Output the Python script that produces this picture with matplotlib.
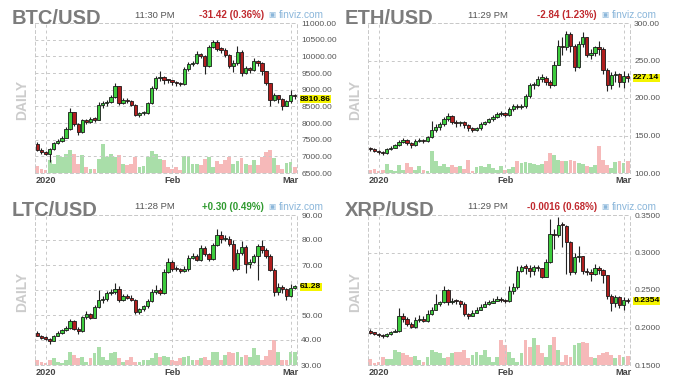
import matplotlib
matplotlib.use("Agg")
import matplotlib.pyplot as plt
import pandas as pd
from matplotlib.transforms import blended_transform_factory

plt.rcParams['font.family'] = ['Liberation Sans', 'DejaVu Sans']

W, H = 676, 385
dates = pd.date_range("2019-12-30", "2020-03-02", freq="D")
month_ticks = pd.to_datetime(["2020-01-01", "2020-02-01", "2020-03-01"])
month_labels = ["2020", "Feb", "Mar"]

# ---- BTC/USD ----
btc_first_open = 7360
btc_close = [7180, 7120, 7080, 7220, 7400, 7460, 7560, 7830, 8330, 7980,
             7730, 8080, 8030, 8120, 8100, 8540, 8590, 8640, 8780, 9110,
             8590, 8700, 8660, 8540, 8250, 8300, 8310, 8590, 9040, 9340,
             9370, 9300, 9280, 9240, 9200, 9170, 9610, 9760, 9800, 10070,
             10010, 9720, 10290, 10420, 10220, 10200, 10050, 9710, 9800, 10140,
             9490, 9640, 9590, 9870, 9800, 9550, 9190, 8690, 8830, 8720,
             8520, 8650, 8842, 8810.86]
btc_high = [7420, 7240, 7160, 7260, 7440, 7520, 7600, 7880, 8450, 8340,
            8010, 8120, 8110, 8190, 8180, 8620, 8650, 8700, 8850, 9200,
            9120, 8760, 8750, 8680, 8560, 8340, 8360, 8620, 9100, 9420,
            9560, 9400, 9330, 9290, 9250, 9230, 9680, 9830, 9860, 10150,
            10100, 10030, 10330, 10500, 10480, 10280, 10240, 10070, 9880, 10300,
            10200, 9700, 9680, 9960, 9900, 9820, 9560, 9200, 8900, 8850,
            8740, 8700, 9000, 8880]
btc_low = [7150, 7080, 7040, 6830, 7180, 7380, 7440, 7540, 7800, 7900,
           7650, 7700, 7970, 7990, 8040, 8080, 8460, 8520, 8600, 8740,
           8540, 8560, 8600, 8500, 8200, 8180, 8240, 8280, 8560, 9000,
           9250, 9160, 9200, 9150, 9120, 9100, 9140, 9560, 9700, 9760,
           9950, 9480, 9680, 10240, 10150, 10100, 9980, 9650, 9520, 9750,
           9400, 9460, 9500, 9560, 9720, 9450, 9150, 8500, 8650, 8600,
           8400, 8500, 8600, 8720]
btc_vol = [20, 13, 8, 38, 28, 53, 48, 56, 70, 56,
           28, 53, 18, 13, 13, 43, 86, 48, 56, 48,
           53, 28, 23, 28, 48, 18, 20, 48, 66, 58,
           43, 38, 18, 13, 18, 8, 50, 48, 28, 28,
           23, 43, 48, 18, 36, 28, 38, 48, 26, 36,
           46, 26, 23, 38, 23, 48, 63, 68, 46, 23,
           13, 30, 33, 18]
btc_ticks = [6500, 7000, 7500, 8000, 8500, 9000, 9500, 10000, 10500, 11000]

# ---- ETH/USD ----
eth_first_open = 134
eth_close = [132, 130, 128, 127, 132, 134, 137, 141, 144, 140,
             137, 143, 144, 143, 148, 158, 162, 165, 172, 176,
             168, 167, 168, 164, 160, 158, 160, 166, 168, 172,
             175, 179, 180.5, 178, 185, 190, 188, 189, 203, 217,
             218, 226, 227, 222, 217, 244, 270, 268, 285, 270,
             242, 272, 282, 258, 260, 268, 265, 237, 217, 231,
             232, 221, 229.98, 227.14]
eth_high = [135, 133, 131, 130, 134, 136, 139, 144, 147, 145,
            141, 145, 147, 146, 150, 170, 166, 168, 175, 180,
            178, 171, 170, 169, 165, 161, 162, 168, 170, 174,
            178, 182, 183, 181, 188, 192, 192, 192, 206, 220,
            222, 230, 232, 229, 224, 250, 278, 282, 290, 288,
            272, 276, 288, 282, 266, 270, 276, 268, 240, 235,
            236, 234, 236, 233]
eth_low = [130, 128, 126, 124, 126, 131, 133, 136, 140, 138,
           134, 136, 141, 140, 142, 147, 155, 158, 163, 170,
           165, 162, 163, 160, 156, 155, 156, 158, 164, 167,
           170, 174, 176, 175, 176, 183, 185, 185, 187, 200,
           212, 216, 221, 218, 214, 216, 244, 258, 264, 262,
           236, 240, 268, 255, 252, 256, 258, 232, 210, 212,
           222, 215, 213, 222]
eth_vol = [8, 12, 5, 10, 28, 8, 5, 25, 10, 30,
           18, 10, 20, 10, 6, 65, 35, 20, 28, 18,
           25, 18, 20, 12, 38, 5, 18, 22, 18, 28,
           15, 8, 22, 10, 12, 18, 35, 30, 32, 30,
           28, 25, 28, 35, 60, 55, 40, 35, 35, 38,
           35, 30, 28, 22, 18, 25, 80, 40, 25, 15,
           32, 35, 30, 35]
eth_ticks = [100, 150, 200, 250, 300]

# ---- LTC/USD ----
ltc_first_open = 43.0
ltc_close = [41.8, 41.0, 40.6, 39.8, 41.7, 42.8, 44.0, 44.8, 47.6, 44.6,
             43.6, 49.2, 50.3, 49.0, 53.3, 56.0, 56.6, 58.7, 59.3, 60.6,
             56.0, 57.7, 57.0, 56.2, 51.3, 52.3, 53.5, 55.7, 59.3, 60.2,
             58.9, 67.4, 71.3, 68.6, 68.4, 67.8, 68.3, 73.0, 73.6, 72.2,
             77.0, 74.4, 72.4, 78.2, 82.2, 80.3, 80.5, 78.6, 68.6, 74.8,
             77.2, 70.4, 71.3, 73.7, 77.5, 76.2, 73.7, 68.0, 59.4, 61.2,
             60.3, 57.8, 60.98, 61.28]
ltc_high = [43.8, 42.2, 41.5, 41.0, 42.0, 43.5, 44.6, 45.5, 48.5, 48.0,
            45.2, 49.8, 51.5, 50.8, 54.0, 60.0, 57.5, 59.5, 60.5, 63.0,
            61.5, 58.5, 58.5, 58.0, 56.5, 53.0, 54.0, 56.5, 60.5, 62.0,
            61.0, 68.5, 72.8, 72.0, 69.5, 69.0, 69.5, 74.0, 75.0, 74.5,
            78.0, 77.5, 75.0, 79.0, 84.5, 83.5, 82.0, 81.5, 80.0, 76.5,
            79.5, 78.0, 72.5, 74.5, 78.5, 80.0, 77.0, 74.5, 69.0, 63.0,
            62.0, 61.0, 62.3, 62.0]
ltc_low = [41.5, 40.5, 40.0, 38.5, 39.5, 41.5, 42.5, 43.5, 44.5, 44.0,
           42.5, 43.2, 48.5, 48.5, 48.8, 53.0, 55.0, 55.8, 58.0, 58.5,
           55.2, 55.5, 56.5, 55.5, 50.5, 50.3, 51.8, 53.0, 55.3, 58.5,
           58.0, 58.5, 66.8, 67.5, 67.5, 67.0, 67.2, 67.8, 72.5, 71.5,
           71.8, 73.8, 71.5, 72.0, 77.8, 79.0, 79.5, 77.8, 67.5, 68.0,
           74.0, 67.0, 69.0, 71.0, 64.0, 75.0, 73.0, 67.5, 57.5, 58.0,
           59.0, 56.0, 57.2, 60.5]
ltc_vol = [15, 10, 5, 15, 20, 8, 5, 15, 40, 30,
           20, 25, 10, 22, 35, 55, 25, 15, 35, 38,
           22, 10, 15, 25, 8, 10, 15, 15, 22, 35,
           25, 28, 25, 15, 12, 20, 25, 28, 15, 15,
           20, 25, 15, 40, 40, 15, 30, 40, 35, 40,
           25, 30, 25, 50, 30, 15, 28, 45, 75, 40,
           15, 15, 40, 38]
ltc_ticks = [30, 40, 50, 60, 70, 80, 90]

# ---- XRP/USD ----
xrp_first_open = 0.1960
xrp_close = [0.1925, 0.1920, 0.1900, 0.1885, 0.1910, 0.1935, 0.1955, 0.2150, 0.2110, 0.2050,
             0.2010, 0.2100, 0.2115, 0.2090, 0.2180, 0.2240, 0.2310, 0.2340, 0.2500, 0.2340,
             0.2360, 0.2350, 0.2320, 0.2180, 0.2160, 0.2190, 0.2230, 0.2280, 0.2320, 0.2330,
             0.2360, 0.2380, 0.2370, 0.2350, 0.2490, 0.2540, 0.2750, 0.2810, 0.2800, 0.2760,
             0.2810, 0.2790, 0.2680, 0.2880, 0.3240, 0.3230, 0.3370, 0.3360, 0.3140, 0.2740,
             0.2940, 0.2950, 0.2760, 0.2740, 0.2710, 0.2790, 0.2770, 0.2700, 0.2420, 0.2330,
             0.2410, 0.2300, 0.2370, 0.2354]
xrp_high = [0.1975, 0.1945, 0.1930, 0.1910, 0.1925, 0.1950, 0.1980, 0.2260, 0.2200, 0.2140,
            0.2080, 0.2140, 0.2170, 0.2160, 0.2230, 0.2280, 0.2450, 0.2360, 0.2550, 0.2520,
            0.2400, 0.2380, 0.2370, 0.2340, 0.2200, 0.2230, 0.2270, 0.2310, 0.2350, 0.2370,
            0.2400, 0.2420, 0.2410, 0.2380, 0.2550, 0.2600, 0.2820, 0.2840, 0.2850, 0.2830,
            0.2840, 0.2830, 0.2800, 0.2920, 0.3450, 0.3320, 0.3480, 0.3400, 0.3360, 0.3160,
            0.3000, 0.3090, 0.2960, 0.2800, 0.2780, 0.2850, 0.2820, 0.2780, 0.2700, 0.2450,
            0.2440, 0.2420, 0.2410, 0.2390]
xrp_low = [0.1910, 0.1905, 0.1880, 0.1860, 0.1880, 0.1905, 0.1935, 0.1945, 0.2070, 0.2020,
           0.1990, 0.2000, 0.2080, 0.2070, 0.2080, 0.2170, 0.2230, 0.2290, 0.2330, 0.2300,
           0.2320, 0.2320, 0.2280, 0.2150, 0.2120, 0.2150, 0.2190, 0.2240, 0.2280, 0.2300,
           0.2330, 0.2350, 0.2340, 0.2330, 0.2340, 0.2450, 0.2520, 0.2740, 0.2720, 0.2680,
           0.2700, 0.2760, 0.2660, 0.2670, 0.2860, 0.3050, 0.3210, 0.3080, 0.2720, 0.2700,
           0.2720, 0.2880, 0.2720, 0.2700, 0.2620, 0.2700, 0.2720, 0.2600, 0.2380, 0.2220,
           0.2280, 0.2260, 0.2230, 0.2330]
xrp_vol = [18, 5, 8, 25, 18, 18, 45, 40, 35, 30,
           25, 28, 15, 10, 25, 45, 40, 35, 20, 25,
           35, 38, 40, 45, 20, 30, 40, 30, 45, 25,
           10, 25, 75, 60, 40, 20, 10, 35, 75, 55,
           80, 60, 35, 25, 60, 85, 45, 10, 30, 25,
           60, 65, 70, 65, 25, 20, 30, 35, 40, 30,
           20, 30, 25, 28]
xrp_ticks = [0.15, 0.20, 0.25, 0.30, 0.35]

UP = "#3dcc3d"
DOWN = "#b01e1e"
VOL_UP = "#a9dea9"
VOL_DOWN = "#f6b9b9"
GRID = "#c8c8c8"
RED_TXT = "#c0282d"
GREEN_TXT = "#2f9a2f"

fig = plt.figure(figsize=(W / 100, H / 100), dpi=100)
fig.patch.set_facecolor("white")


def fx(x):
    return x / W


def fy(y):
    return 1 - y / H


def panel(ox, oy, name, time_txt, change, chg_color, first_open, close, high, low,
          vol, ticks, fmt, last_txt, tag_dy=0):
    left, right, top, bottom = ox + 35, ox + 297, oy + 23, oy + 173
    rect = [fx(left), fy(bottom), fx(right) - fx(left), fy(top) - fy(bottom)]
    opens = [first_open] + close[:-1]
    up = [c >= o for o, c in zip(opens, close)]

    axv = fig.add_axes(rect)
    axv.bar(dates, vol, width=0.95, color=[VOL_UP if u else VOL_DOWN for u in up],
            linewidth=0)
    axv.set_ylim(0, 450)
    axv.axis("off")

    ax = fig.add_axes(rect, sharex=axv)
    ax.patch.set_alpha(0)
    ax.set_ylim(ticks[0], ticks[-1])
    ax.set_xlim(dates[0] - pd.Timedelta(hours=14), dates[-1] + pd.Timedelta(hours=14))
    for t in ticks:
        ax.axhline(t, color=GRID, lw=0.7, ls=(0, (3, 3)), zorder=0)
    for t in month_ticks:
        ax.axvline(t, color=GRID, lw=0.7, ls=(0, (3, 3)), zorder=0)
    for s in ax.spines.values():
        s.set_color(GRID)
        s.set_linewidth(0.7)
        s.set_linestyle((0, (3, 3)))

    hi = [max(h, o, c) for h, o, c in zip(high, opens, close)]
    lo = [min(l, o, c) for l, o, c in zip(low, opens, close)]
    ax.vlines(dates, lo, hi, color="#222222", lw=0.8, zorder=2)
    body_bot = [min(o, c) for o, c in zip(opens, close)]
    body_h = [max(abs(c - o), (ticks[-1] - ticks[0]) * 0.008) for o, c in zip(opens, close)]
    ax.bar(dates, body_h, bottom=body_bot, width=0.8,
           color=[UP if u else DOWN for u in up], edgecolor="#1a1a1a",
           linewidth=0.6, zorder=3)

    # tick labels hidden under the yellow last-price tag
    span = ticks[-1] - ticks[0]
    labels = ["" if abs(t - close[-1]) < 0.035 * span else fmt.format(t) for t in ticks]
    ax.yaxis.tick_right()
    ax.set_yticks(ticks)
    ax.set_yticklabels(labels)
    ax.tick_params(axis="y", length=0, pad=3, labelsize=6.0, labelcolor="#555555")
    ax.set_xticks(month_ticks)
    ax.set_xticklabels(month_labels)
    ax.tick_params(axis="x", length=0, pad=2, labelsize=6.6, labelcolor="#444444")
    for lab in ax.get_xticklabels():
        lab.set_fontweight("bold")

    tr = blended_transform_factory(ax.transAxes, ax.transData)
    ax.annotate(last_txt, xy=(1.012, close[-1]), xycoords=tr,
                xytext=(0, tag_dy), textcoords="offset points",
                ha="left", va="center", fontsize=6.1, fontweight="bold",
                color="black", zorder=5, annotation_clip=False,
                bbox=dict(boxstyle="square,pad=0.05", fc="#f4f400", ec="none"))

    fig.text(fx(ox + 12), fy(oy + 19), name, ha="left", va="center", fontsize=14.5,
             fontweight="bold", color="#7c7c7c")
    fig.text(fx(ox + 155), fy(oy + 15), time_txt, ha="center", va="center",
             fontsize=6.8, color="#555555")
    fig.text(fx(ox + 264), fy(oy + 15), change, ha="right", va="center",
             fontsize=7, fontweight="bold", color=chg_color)
    fig.text(fx(ox + 268), fy(oy + 15), "\u25a3", ha="left", va="center",
             fontsize=5.5, color="#8ab6da", family="DejaVu Sans")
    fig.text(fx(ox + 279), fy(oy + 15), "finviz.com", ha="left", va="center",
             fontsize=7.3, color="#8ab6da")
    fig.text(fx(ox + 22), fy(oy + 100), "DAILY", ha="center", va="center",
             rotation=90, fontsize=10, fontweight="bold", color="#cccccc")


panel(0, 0, "BTC/USD", "11:30 PM", "-31.42 (0.36%)", RED_TXT, btc_first_open,
      btc_close, btc_high, btc_low, btc_vol, btc_ticks, "{:.2f}", "8810.86", tag_dy=-2.2)
panel(333, 0, "ETH/USD", "11:29 PM", "-2.84 (1.23%)", RED_TXT, eth_first_open,
      eth_close, eth_high, eth_low, eth_vol, eth_ticks, "{:.2f}", "227.14")
panel(0, 192, "LTC/USD", "11:28 PM", "+0.30 (0.49%)", GREEN_TXT, ltc_first_open,
      ltc_close, ltc_high, ltc_low, ltc_vol, ltc_ticks, "{:.2f}", "61.28")
panel(333, 192, "XRP/USD", "11:29 PM", "-0.0016 (0.68%)", RED_TXT, xrp_first_open,
      xrp_close, xrp_high, xrp_low, xrp_vol, xrp_ticks, "{:.4f}", "0.2354")

fig.savefig("out.png", dpi=100, facecolor="white")
